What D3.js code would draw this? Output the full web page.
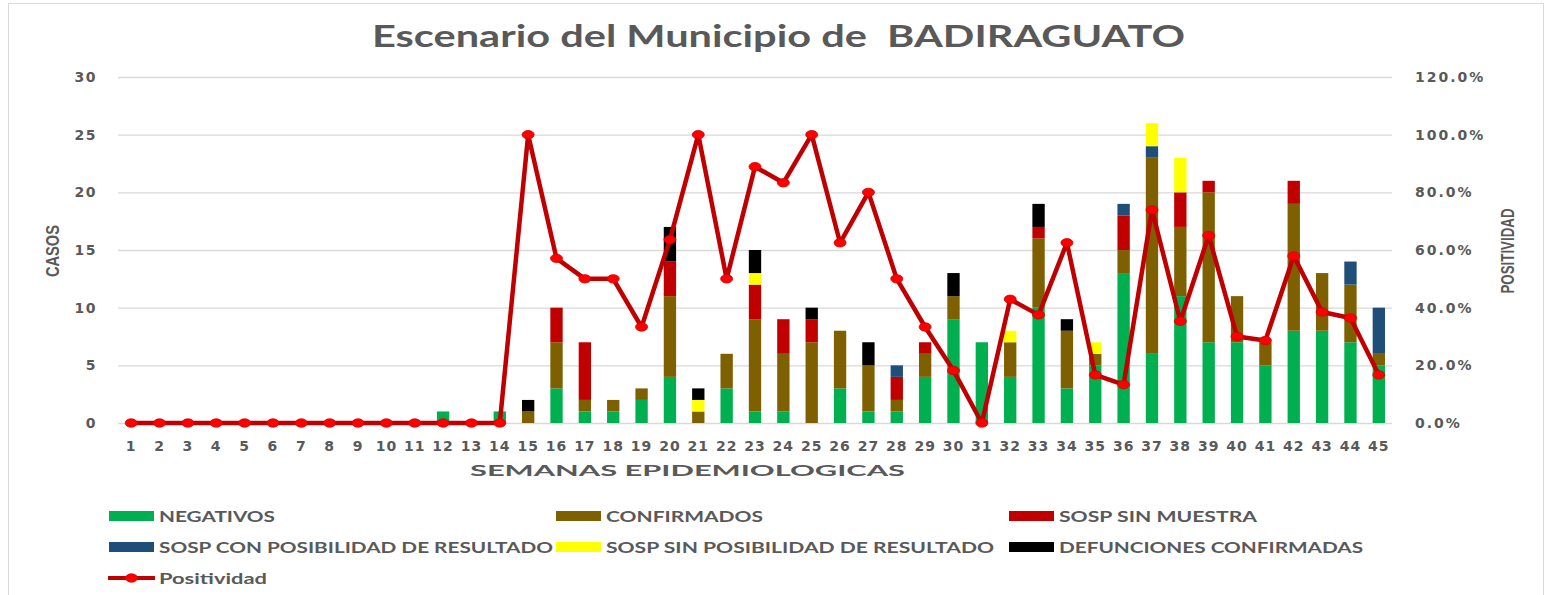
<!DOCTYPE html>
<html>
<head>
<meta charset="utf-8">
<script src="https://cdn.jsdelivr.net/npm/d3@7"></script>
<style>
  html, body { margin: 0; padding: 0; background: #ffffff; }
  svg { display: block; }
  text { white-space: pre; }
</style>
</head>
<body>
<svg id="chart" width="1547" height="595"></svg>
<script>
// Semanas epidemiológicas 1–45
const semanas = d3.range(1, 46);

// Casos por semana, por categoría (en orden de apilado)
const negativos      = [0,0,0,0,0,0,0,0,0,0,0,1,0,1,0,3,1,1,2,4,0,3,1,1,0,3,1,1,4,9,7,4,10,3,5,13,6,11,7,7,5,8,8,7,5];
const confirmados    = [0,0,0,0,0,0,0,0,0,0,0,0,0,0,1,4,1,1,1,7,1,3,8,5,7,5,4,1,2,2,0,3,6,5,1,2,17,6,13,4,2,11,5,5,1];
const sospSinMuestra = [0,0,0,0,0,0,0,0,0,0,0,0,0,0,0,3,5,0,0,3,0,0,3,3,2,0,0,2,1,0,0,0,1,0,0,3,0,3,1,0,0,2,0,0,0];
const sospConPosib   = [0,0,0,0,0,0,0,0,0,0,0,0,0,0,0,0,0,0,0,0,0,0,0,0,0,0,0,1,0,0,0,0,0,0,0,1,1,0,0,0,0,0,0,2,4];
const sospSinPosib   = [0,0,0,0,0,0,0,0,0,0,0,0,0,0,0,0,0,0,0,0,1,0,1,0,0,0,0,0,0,0,0,1,0,0,1,0,2,3,0,0,0,0,0,0,0];
const defunciones    = [0,0,0,0,0,0,0,0,0,0,0,0,0,0,1,0,0,0,0,3,1,0,2,0,1,0,2,0,0,2,0,0,2,1,0,0,0,0,0,0,0,0,0,0,0];

// Positividad semanal (%)
const positividad = [0,0,0,0,0,0,0,0,0,0,0,0,0,0,100,57.1,50,50,33.3,63.6,100,50,88.9,83.3,100,62.5,80,50,33.3,18.2,0,42.9,37.5,62.5,16.7,13.3,73.9,35.3,65,30,28.6,57.9,38.5,36.4,16.7];

// Marcas de los ejes
const ticksCasos = [0, 5, 10, 15, 20, 25, 30];
const ticksPositividad = [0, 0.2, 0.4, 0.6, 0.8, 1.0, 1.2];

const series = [
  { key: "neg", nombre: "NEGATIVOS", valores: negativos, color: "#00b050" },
  { key: "conf", nombre: "CONFIRMADOS", valores: confirmados, color: "#7f6000" },
  { key: "sinm", nombre: "SOSP SIN MUESTRA", valores: sospSinMuestra, color: "#c00000" },
  { key: "conp", nombre: "SOSP CON POSIBILIDAD DE RESULTADO", valores: sospConPosib, color: "#1f4e79" },
  { key: "sinp", nombre: "SOSP SIN POSIBILIDAD DE RESULTADO", valores: sospSinPosib, color: "#ffff00" },
  { key: "def", nombre: "DEFUNCIONES CONFIRMADAS", valores: defunciones, color: "#000000" }
];

const gris = "#595959";
const svg = d3.select("#chart");

// marco del gráfico
svg.append("rect")
  .attr("x", 8.5).attr("y", 3.5).attr("width", 1535).attr("height", 620)
  .attr("fill", "none").attr("stroke", "#d9d9d9");

const plot = { left: 117, right: 1393, top: 77, bottom: 423 };

const x = d3.scaleBand()
  .domain(semanas)
  .range([plot.left, plot.right])
  .paddingInner(0.565)
  .paddingOuter(0.2825);

const y = d3.scaleLinear().domain([0, 30]).range([plot.bottom, plot.top]);
const yPos = d3.scaleLinear().domain([0, 1.2]).range([plot.bottom, plot.top]);

// título
svg.append("text")
  .attr("x", 372).attr("y", 47)
  .attr("font-family", "Lato, 'Open Sans', sans-serif")
  .attr("font-weight", "bold")
  .attr("font-size", 30)
  .attr("fill", gris)
  .attr("textLength", 813)
  .attr("lengthAdjust", "spacingAndGlyphs")
  .text("Escenario del Municipio de  BADIRAGUATO");

// eje izquierdo con líneas de cuadrícula
const ejeY = svg.append("g")
  .attr("transform", `translate(${plot.left + 1},0)`)
  .call(d3.axisLeft(y).tickValues(ticksCasos).tickSize(-(plot.right - plot.left - 2)).tickPadding(21));
ejeY.select(".domain").remove();
ejeY.selectAll("line").attr("stroke", "#d9d9d9").attr("stroke-width", 1.3);
ejeY.selectAll("text")
  .attr("font-family", "'DejaVu Sans', sans-serif")
  .attr("font-weight", "bold").attr("font-size", 14)
  .attr("letter-spacing", "1.5px")
  .attr("fill", gris);

// eje derecho (positividad)
const ejeYDer = svg.append("g")
  .attr("transform", `translate(${plot.right - 1},0)`)
  .call(d3.axisRight(yPos).tickValues(ticksPositividad).tickSize(0).tickPadding(23).tickFormat(d3.format(".1%")));
ejeYDer.select(".domain").remove();
ejeYDer.selectAll("text")
  .attr("font-family", "'DejaVu Sans', sans-serif")
  .attr("font-weight", "bold").attr("font-size", 14)
  .attr("letter-spacing", "2px")
  .attr("fill", gris);

// eje inferior (semanas)
const ejeX = svg.append("g")
  .attr("transform", `translate(0,${plot.bottom})`)
  .call(d3.axisBottom(x).tickSize(0).tickPadding(18));
ejeX.select(".domain").remove();
ejeX.selectAll("text")
  .attr("font-family", "'DejaVu Sans', sans-serif")
  .attr("font-weight", "bold").attr("font-size", 14)
  .attr("letter-spacing", "1px")
  .attr("fill", gris);

// barras apiladas
const filas = semanas.map((s, i) => {
  const o = { semana: s };
  series.forEach(se => { o[se.key] = se.valores[i]; });
  return o;
});
const pila = d3.stack().keys(series.map(s => s.key))(filas);

svg.append("g").selectAll("g")
  .data(pila)
  .join("g")
  .attr("fill", (d, i) => series[i].color)
  .selectAll("rect")
  .data(d => d.filter(p => p[1] > p[0]))
  .join("rect")
  .attr("x", d => x(d.data.semana))
  .attr("width", x.bandwidth())
  .attr("y", d => y(d[1]))
  .attr("height", d => y(d[0]) - y(d[1]));

// línea de positividad
const cx = s => x(s) + x.bandwidth() / 2;
const linea = d3.line()
  .x((d, i) => cx(semanas[i]))
  .y(d => yPos(d / 100));

svg.append("path")
  .datum(positividad)
  .attr("fill", "none")
  .attr("stroke", "#c00000")
  .attr("stroke-width", 4.5)
  .attr("stroke-linejoin", "round")
  .attr("d", linea);

svg.append("g").selectAll("ellipse")
  .data(positividad)
  .join("ellipse")
  .attr("cx", (d, i) => cx(semanas[i]))
  .attr("cy", d => yPos(d / 100))
  .attr("rx", 6).attr("ry", 4.2)
  .attr("fill", "#ff0000")
  .attr("stroke", "#d00000")
  .attr("stroke-width", 0.8);

// títulos de ejes
svg.append("text")
  .attr("transform", "translate(59,251) rotate(-90)")
  .attr("text-anchor", "middle")
  .attr("font-family", "'Liberation Sans Narrow', 'Liberation Sans', sans-serif")
  .attr("font-weight", "bold")
  .attr("font-size", 19)
  .attr("fill", gris)
  .attr("textLength", 52)
  .attr("lengthAdjust", "spacingAndGlyphs")
  .text("CASOS");

svg.append("text")
  .attr("transform", "translate(1514,251) rotate(-90)")
  .attr("text-anchor", "middle")
  .attr("font-family", "'Liberation Sans Narrow', 'Liberation Sans', sans-serif")
  .attr("font-weight", "bold")
  .attr("font-size", 18)
  .attr("fill", gris)
  .attr("textLength", 85)
  .attr("lengthAdjust", "spacingAndGlyphs")
  .text("POSITIVIDAD");

svg.append("text")
  .attr("x", 470).attr("y", 476)
  .attr("font-family", "Lato, 'Open Sans', sans-serif")
  .attr("font-weight", "bold")
  .attr("font-size", 15.5)
  .attr("fill", gris)
  .attr("textLength", 435)
  .attr("lengthAdjust", "spacingAndGlyphs")
  .text("SEMANAS EPIDEMIOLOGICAS");

// leyenda
const anchosLeyenda = [116, 157, 198, 394, 388, 304];
const colX = [109, 556, 1009];
const filaY = [516, 547];
const leyenda = svg.append("g");
series.forEach((s, i) => {
  const cxL = colX[i % 3];
  const cyL = filaY[Math.floor(i / 3)];
  leyenda.append("rect")
    .attr("x", cxL).attr("y", cyL - 5)
    .attr("width", 45).attr("height", 10)
    .attr("fill", s.color);
  leyenda.append("text")
    .attr("x", cxL + 50).attr("y", cyL + 5.5)
    .attr("font-family", "Lato, 'Open Sans', sans-serif")
    .attr("font-weight", "bold")
    .attr("font-size", 15.5)
    .attr("fill", gris)
    .attr("textLength", anchosLeyenda[i])
    .attr("lengthAdjust", "spacingAndGlyphs")
    .text(s.nombre);
});
leyenda.append("line")
  .attr("x1", 108).attr("x2", 155).attr("y1", 578).attr("y2", 578)
  .attr("stroke", "#c00000").attr("stroke-width", 4);
leyenda.append("ellipse")
  .attr("cx", 131.5).attr("cy", 578).attr("rx", 6).attr("ry", 4.2)
  .attr("fill", "#ff0000").attr("stroke", "#d00000").attr("stroke-width", 0.8);
leyenda.append("text")
  .attr("x", 159).attr("y", 583.5)
  .attr("font-family", "Lato, 'Open Sans', sans-serif")
  .attr("font-weight", "bold")
  .attr("font-size", 15.5)
  .attr("fill", gris)
  .attr("textLength", 108)
  .attr("lengthAdjust", "spacingAndGlyphs")
  .text("Positividad");
</script>
</body>
</html>
